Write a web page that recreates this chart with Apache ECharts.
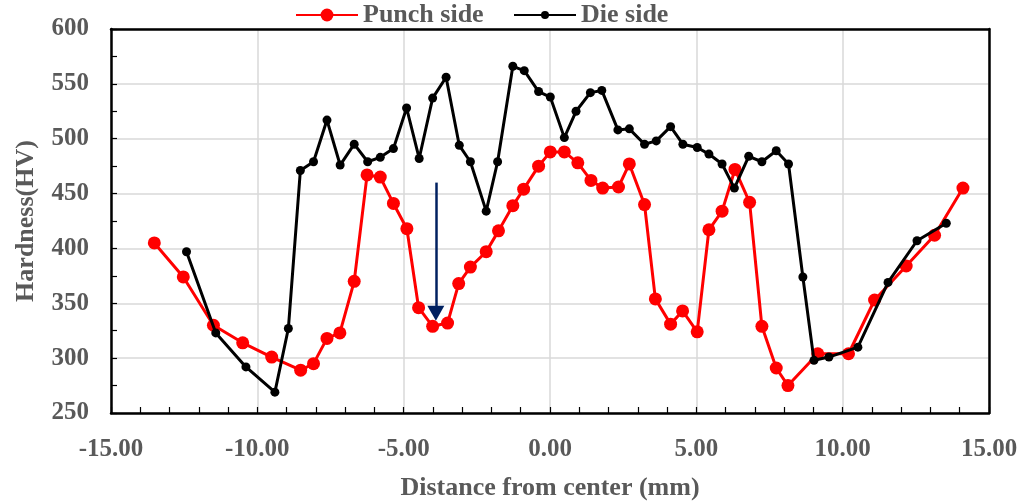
<!DOCTYPE html>
<html>
<head>
<meta charset="utf-8">
<script src="https://cdn.jsdelivr.net/npm/echarts@6/dist/echarts.min.js"></script>
<style>html,body{margin:0;padding:0;background:#fff;}#c{width:1034px;height:502px;}</style>
</head>
<body>
<div id="c"></div>
<script>
const seriesNames = ['Punch side', 'Die side'];
const punchX = [-13.52, -12.53, -11.5, -10.5, -9.51, -8.52, -8.08, -7.62, -7.18, -6.69, -6.25, -5.8, -5.35, -4.89, -4.49, -4.01, -3.5, -3.12, -2.72, -2.18, -1.76, -1.27, -0.9, -0.39, 0.01, 0.49, 0.95, 1.4, 1.8, 2.34, 2.71, 3.23, 3.6, 4.12, 4.53, 5.03, 5.43, 5.88, 6.32, 6.82, 7.24, 7.73, 8.13, 9.15, 10.2, 11.09, 12.17, 13.14, 14.11];
const punchY = [405, 374, 330, 314, 301, 289, 295, 318, 323, 370, 467, 465, 441, 418, 346, 329, 332, 368, 383, 397, 416, 439, 454, 475, 488, 488, 478, 462, 455, 456, 477, 440, 354, 331, 343, 324, 417, 434, 472, 442, 329, 291, 275, 304, 304, 353, 384, 412, 455];
const dieX = [-12.42, -11.42, -10.39, -9.4, -8.94, -8.53, -8.08, -7.62, -7.17, -6.69, -6.23, -5.8, -5.35, -4.9, -4.47, -4.01, -3.55, -3.1, -2.72, -2.18, -1.79, -1.27, -0.88, -0.39, 0.01, 0.49, 0.89, 1.38, 1.77, 2.32, 2.71, 3.23, 3.63, 4.12, 4.54, 5.03, 5.43, 5.88, 6.3, 6.79, 7.24, 7.73, 8.15, 8.64, 9.02, 9.53, 10.52, 11.55, 12.54, 13.54];
const dieY = [397, 323, 292, 269, 327, 471, 479, 517, 476, 495, 479, 483, 491, 528, 482, 537, 556, 494, 479, 434, 479, 566, 562, 543, 538, 501, 525, 542, 544, 508, 509, 495, 498, 511, 495, 492, 486, 477, 455, 484, 479, 489, 477, 374, 298, 301, 310, 369, 407, 423];
const arrowX = -3.9;
const arrowFromY = 460;
const arrowToY = 341;
const xTitle = 'Distance from center (mm)';
const yTitle = 'Hardness(HV)';

const FONT = '"Liberation Serif", "Times New Roman", serif';
const TXT = '#595959';
const pair = (xs, ys) => xs.map((x, i) => [x, ys[i]]);
const legendText = {fontFamily: FONT, fontWeight: 'bold', fontSize: 26, color: TXT};
const frameAxisLine = {show: true, onZero: false, lineStyle: {color: '#000', width: 2.5}};

const chart = echarts.init(document.getElementById('c'), null, {renderer: 'canvas'});
chart.setOption({
  animation: false,
  backgroundColor: '#fff',
  legend: [
    {top: -3, left: 290, itemWidth: 62, itemHeight: 16, textStyle: legendText, data: [seriesNames[0]]},
    {top: -3, left: 508, itemWidth: 62, itemHeight: 10, textStyle: legendText, data: [seriesNames[1]]}
  ],
  grid: {left: 111, right: 45, top: 29, bottom: 89, outerBoundsMode: 'none', containLabel: false},
  xAxis: [{
    type: 'value', min: -15, max: 15, interval: 5,
    name: xTitle, nameLocation: 'middle', nameGap: 62,
    nameTextStyle: {fontFamily: FONT, fontWeight: 'bold', fontSize: 26, color: TXT},
    axisLine: frameAxisLine,
    axisTick: {show: true, inside: true, length: 6, lineStyle: {color: '#000', width: 1.2}},
    minorTick: {show: true, splitNumber: 5, length: 6, lineStyle: {color: '#000', width: 1.2}},
    splitLine: {show: true, lineStyle: {color: '#d9d9d9', width: 1.5}},
    axisLabel: {fontFamily: FONT, fontWeight: 'bold', fontSize: 25, color: TXT, margin: 24,
      formatter: v => v.toFixed(2)}
  }, {
    type: 'value', min: -15, max: 15, interval: 5, position: 'top',
    axisLine: frameAxisLine, axisTick: {show: false}, axisLabel: {show: false}, splitLine: {show: false}
  }],
  yAxis: [{
    type: 'value', min: 250, max: 600, interval: 50,
    name: yTitle, nameLocation: 'middle', nameGap: 72, nameRotate: 90,
    nameTextStyle: {fontFamily: FONT, fontWeight: 'bold', fontSize: 26, color: TXT},
    axisLine: frameAxisLine,
    axisTick: {show: true, inside: true, length: 6, lineStyle: {color: '#000', width: 1.2}},
    minorTick: {show: true, splitNumber: 2, length: 6, lineStyle: {color: '#000', width: 1.2}},
    splitLine: {show: true, lineStyle: {color: '#d9d9d9', width: 1.5}},
    axisLabel: {fontFamily: FONT, fontWeight: 'bold', fontSize: 25, color: TXT, margin: 22}
  }, {
    type: 'value', min: 250, max: 600, interval: 50, position: 'right',
    axisLine: frameAxisLine, axisTick: {show: false}, axisLabel: {show: false}, splitLine: {show: false}
  }],
  series: [
    {
      name: seriesNames[0], type: 'line', data: pair(punchX, punchY),
      symbol: 'circle', symbolSize: 13, z: 2,
      lineStyle: {color: '#ff0000', width: 3}, itemStyle: {color: '#ff0000'},
      markLine: {
        silent: true, symbol: ['none', 'triangle'], symbolSize: [17, 15],
        label: {show: false},
        lineStyle: {color: '#002060', width: 2.5, type: 'solid'},
        data: [[{coord: [arrowX, arrowFromY]}, {coord: [arrowX, arrowToY]}]]
      }
    },
    {
      name: seriesNames[1], type: 'line', data: pair(dieX, dieY),
      symbol: 'circle', symbolSize: 9, z: 3,
      lineStyle: {color: '#000000', width: 3}, itemStyle: {color: '#000000'}
    }
  ]
});
</script>
</body>
</html>
